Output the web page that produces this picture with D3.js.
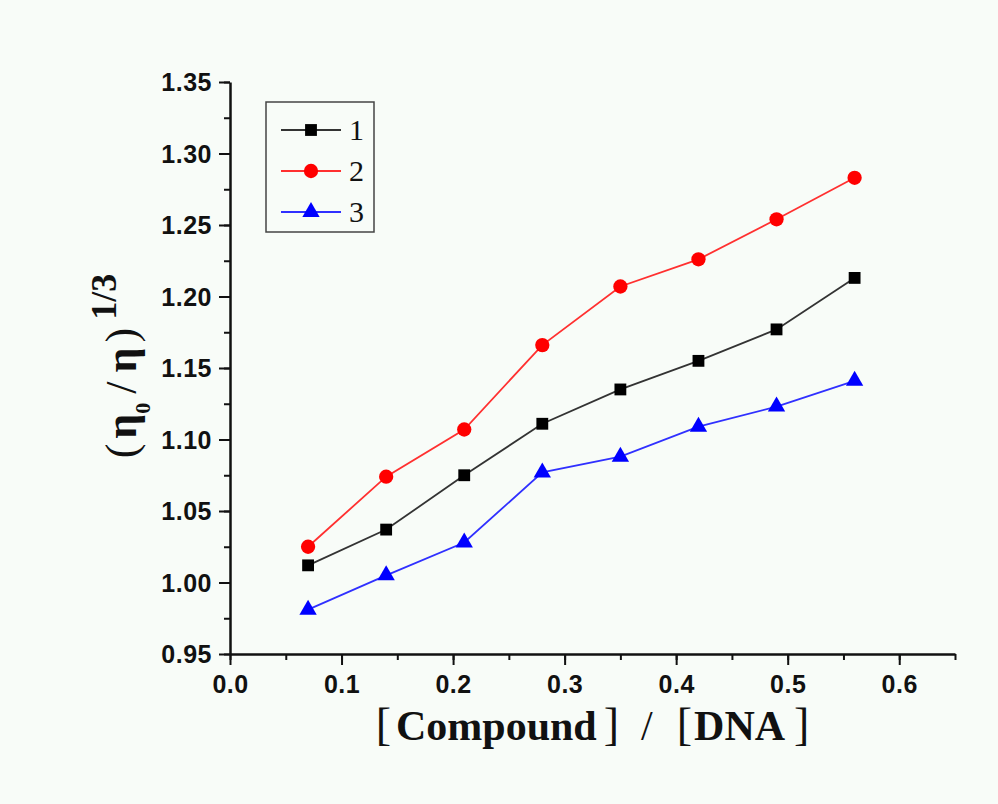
<!DOCTYPE html>
<html>
<head>
<meta charset="utf-8">
<script src="https://cdn.jsdelivr.net/npm/d3@7"></script>
<style>
  body { margin: 0; background: #f8fcf8; }
  svg { display: block; }
</style>
</head>
<body>
<div id="chart"></div>
<script>
// chart values
const ratios = [0.07, 0.14, 0.21, 0.28, 0.35, 0.42, 0.49, 0.56];
const series1 = [1.012, 1.037, 1.075, 1.111, 1.135, 1.155, 1.177, 1.213];
const series2 = [1.025, 1.074, 1.107, 1.166, 1.207, 1.226, 1.254, 1.283];
const series3 = [0.981, 1.005, 1.028, 1.077, 1.088, 1.109, 1.123, 1.141];
const seriesNames = ['1', '2', '3'];
const xTicks = [0.0, 0.1, 0.2, 0.3, 0.4, 0.5, 0.6];
const yTicks = [0.95, 1.00, 1.05, 1.10, 1.15, 1.20, 1.25, 1.30, 1.35];

const W = 998, H = 804;
const margin = {top: 82, left: 230, right: 43, bottom: 150};
const width = W - margin.left - margin.right;
const height = H - margin.top - margin.bottom;

const svg = d3.select('#chart').append('svg')
  .attr('width', W)
  .attr('height', H);

svg.append('rect').attr('width', W).attr('height', H).attr('fill', '#f8fcf8');

const chart = svg.append('g')
  .attr('transform', `translate(${margin.left}, ${margin.top})`);

const x = d3.scaleLinear().domain([0, 0.65]).range([0, width]);
const y = d3.scaleLinear().domain([0.95, 1.35]).range([height, 0]);

// minor ticks first
const xMinor = d3.range(0, 0.651, 0.05);
const yMinor = d3.range(0.95, 1.3501, 0.025);

chart.append('g')
  .attr('transform', `translate(0, ${height})`)
  .call(d3.axisBottom(x).tickValues(xMinor).tickSize(6).tickFormat(''))
  .call(g => g.select('.domain').remove())
  .selectAll('line').attr('stroke', '#111').attr('stroke-width', 2);

chart.append('g')
  .call(d3.axisLeft(y).tickValues(yMinor).tickSize(6).tickFormat(''))
  .call(g => g.select('.domain').remove())
  .selectAll('line').attr('stroke', '#111').attr('stroke-width', 2);

const xAxis = chart.append('g')
  .attr('transform', `translate(0, ${height})`)
  .call(d3.axisBottom(x).tickValues(xTicks).tickSize(11).tickSizeOuter(0).tickPadding(8)
    .tickFormat(d3.format('.1f')));

const yAxis = chart.append('g')
  .call(d3.axisLeft(y).tickValues(yTicks).tickSize(11).tickSizeOuter(0).tickPadding(7)
    .tickFormat(d3.format('.2f')));

[xAxis, yAxis].forEach(ax => {
  ax.select('.domain').attr('stroke', '#111').attr('stroke-width', 2.5);
  ax.selectAll('.tick line').attr('stroke', '#111').attr('stroke-width', 2);
  ax.selectAll('.tick text')
    .attr('fill', '#111')
    .style('font-family', '"Liberation Sans", Arial, sans-serif')
    .style('font-weight', 'bold')
    .style('font-size', '25px')
    .style('letter-spacing', '0.5px');
});
xAxis.selectAll('.tick text').attr('dy', '0.8em');
yAxis.selectAll('.tick text').attr('dy', '0.34em');

// series
const series = [
  {name: seriesNames[0], values: series1, color: '#000', line: '#333', shape: d3.symbolSquare, size: 140},
  {name: seriesNames[1], values: series2, color: '#ff0000', line: '#ff3030', shape: d3.symbolCircle, size: 160},
  {name: seriesNames[2], values: series3, color: '#0000ff', line: '#3030ff', shape: d3.symbolTriangle, size: 130}
];

const line = d3.line()
  .x((d, i) => x(ratios[i]))
  .y(d => y(d));

series.forEach(s => {
  chart.append('path')
    .attr('d', line(s.values))
    .attr('fill', 'none')
    .attr('stroke', s.line)
    .attr('stroke-width', 1.8);

  chart.selectAll(null)
    .data(s.values)
    .join('path')
    .attr('transform', (d, i) => `translate(${x(ratios[i])}, ${y(d)})`)
    .attr('d', d3.symbol().type(s.shape).size(s.size))
    .attr('fill', s.color);
});

// legend
const legend = svg.append('g').attr('transform', 'translate(266, 102)');
legend.append('rect')
  .attr('width', 108).attr('height', 130)
  .attr('fill', 'none')
  .attr('stroke', '#444').attr('stroke-width', 1.5);

series.forEach((s, i) => {
  const ly = 28 + i * 41;
  legend.append('line')
    .attr('x1', 15).attr('x2', 75)
    .attr('y1', ly).attr('y2', ly)
    .attr('stroke', s.line).attr('stroke-width', 1.8);
  legend.append('path')
    .attr('transform', `translate(45, ${ly})`)
    .attr('d', d3.symbol().type(s.shape).size(s.size))
    .attr('fill', s.color);
  legend.append('text')
    .attr('x', 83).attr('y', ly + 10)
    .attr('fill', '#111')
    .style('font-family', '"Liberation Serif", "Times New Roman", serif')
    .style('font-size', '30px')
    .text(s.name);
});

// axis titles
const serif = '"Liberation Serif", "Times New Roman", serif';
const xTitle = svg.append('text')
  .attr('x', margin.left + x(0.325))
  .attr('y', 740)
  .attr('text-anchor', 'middle')
  .attr('fill', '#111')
  .style('font-family', serif)
  .style('font-weight', 'bold')
  .style('font-size', '42px');
const bracket = (t, dx) => xTitle.append('tspan')
  .attr('dx', dx).style('font-weight', 'normal').style('font-size', '46px').text(t);
bracket('[', 0);
xTitle.append('tspan').attr('dx', 5).text('Compound');
bracket(']', 7);
xTitle.append('tspan').attr('dx', 22).style('font-weight', 'normal').text('/');
bracket('[', 24);
xTitle.append('tspan').attr('dx', 2).text('DNA');
bracket(']', 9);

const yTitle = svg.append('text')
  .attr('transform', `translate(136, 366) rotate(-90)`)
  .attr('text-anchor', 'middle')
  .attr('fill', '#111')
  .style('font-family', serif)
  .style('font-weight', 'bold')
  .style('font-size', '44px');
yTitle.append('tspan').style('font-weight', 'normal').text('(');
yTitle.append('tspan').attr('dx', 5).text('η');
yTitle.append('tspan').attr('dy', 14).style('font-size', '22px').text('0');
yTitle.append('tspan').attr('dy', -14).attr('dx', 9).style('font-weight', 'normal').text('/');
yTitle.append('tspan').attr('dx', 9).text('η');
yTitle.append('tspan').attr('dx', 5).style('font-weight', 'normal').text(')');
yTitle.append('tspan').attr('dx', 8).attr('dy', -20).style('font-size', '36px').text('1/3');
</script>
</body>
</html>
